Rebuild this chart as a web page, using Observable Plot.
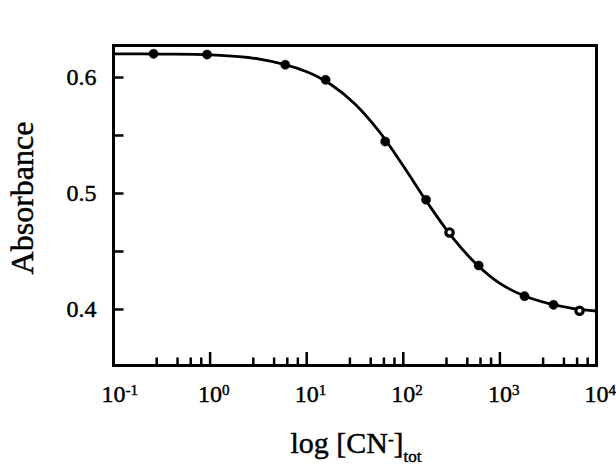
<!DOCTYPE html>
<html><head><meta charset="utf-8">
<script src="https://cdn.jsdelivr.net/npm/d3@7"></script>
<script src="https://cdn.jsdelivr.net/npm/@observablehq/plot@0.6"></script>
<style>html,body{margin:0;padding:0;background:#fff} svg{display:block} #chart svg text{font-family:"Liberation Serif",serif;stroke:#000;stroke-width:0.45px}</style>
</head><body><div id="chart"></div>
<script>
// measured data points
const concentration = [0.26, 0.93, 6.0, 15.7, 65, 172, 301, 603, 1800, 3590, 6670];
const absorbance = [0.6204, 0.6198, 0.6110, 0.5980, 0.5448, 0.4946, 0.4664, 0.4379, 0.4115, 0.4040, 0.3989];
const openMarker = [false, false, false, false, false, false, true, false, false, false, true];
// fitted curve
const fitConcentration = [0.1, 0.316, 1, 3.16, 10, 17.8, 31.6, 56.2, 100, 178, 316, 562, 1000, 1778, 3162, 5623, 10000];
const fitAbsorbance = [0.6204, 0.6202, 0.6195, 0.6160, 0.6050, 0.5940, 0.5772, 0.5535, 0.5237, 0.4920, 0.4630, 0.4397, 0.4225, 0.4118, 0.4052, 0.4010, 0.3987];
// axes
const majorTicksX = [0.1, 1, 10, 100, 1000, 10000];
const tickExponents = ["-1", "0", "1", "2", "3", "4"];
const minorFactors = [2.8, 4.6, 6.3, 8.1];
const ticksY = [0.4, 0.5, 0.6];
const minorTicksY = [0.45, 0.55];
const yTitle = "Absorbance";

const W = 616, H = 466, mt = 45, mb = 101, ml = 113, mr = 20;
const innerH = H - mt - mb, innerW = W - ml - mr;
const points = concentration.map((x, i) => ({x, y: absorbance[i], open: openMarker[i]}));
const fit = fitConcentration.map((x, i) => ({x, y: fitAbsorbance[i]}));
const minorTicksX = majorTicksX.slice(0, -1).flatMap(d => minorFactors.map(f => d * f));
const expOf = new Map(majorTicksX.map((d, i) => [d, tickExponents[i]]));

const plot = Plot.plot({
  width: W, height: H, marginTop: mt, marginBottom: mb, marginLeft: ml, marginRight: mr,
  style: {fontFamily: "Liberation Serif", background: "#fff", color: "#000", overflow: "visible"},
  x: {type: "log", domain: [0.1, 10000]},
  y: {domain: [0.3517, 0.6276]},
  marks: [
    Plot.axisX(majorTicksX, {tickSize: 0, tickPadding: 19, fontSize: 24, label: null, tickFormat: d => "10|" + expOf.get(d)}),
    Plot.axisY(ticksY, {tickSize: 0, tickPadding: 17, fontSize: 24, label: null, tickFormat: d => d.toFixed(1)}),
    Plot.tickX(majorTicksX, {x: d => d, insetTop: innerH - 13, strokeWidth: 2.5}),
    Plot.tickX(minorTicksX, {x: d => d, insetTop: innerH - 7.5, strokeWidth: 2.5}),
    Plot.tickY([...ticksY, ...minorTicksY], {y: d => d, insetRight: innerW - 10.5, strokeWidth: 2.5}),
    Plot.line(fit, {x: "x", y: "y", curve: "catmull-rom", strokeWidth: 2.8}),
    Plot.dot(points.filter(d => !d.open), {x: "x", y: "y", r: 4.6, fill: "black", stroke: "black", strokeWidth: 0.5}),
    Plot.dot(points.filter(d => d.open), {x: "x", y: "y", r: 3.7, fill: "white", stroke: "black", strokeWidth: 3.2}),
    Plot.frame({strokeWidth: 3})
  ]
});
document.getElementById("chart").appendChild(plot);

const svg = d3.select(plot);
svg.selectAll('g[aria-label="x-axis tick label"], g[aria-label="y-axis tick label"]')
  .attr("font-family", "Liberation Serif").attr("font-size", 24).style("font-size", "24px");
svg.selectAll('g[aria-label="x-axis tick label"] text').each(function () {
  const t = d3.select(this);
  const [base, exp] = t.text().split("|");
  t.text(base).attr("text-anchor", "start").attr("dx", "-0.5em");
  t.append("tspan").attr("dy", "-0.42em").style("font-size", "15px").text(exp);
});

svg.append("text")
  .attr("transform", "translate(33,198) rotate(-90)")
  .attr("text-anchor", "middle")
  .style("font-size", "32px")
  .attr("fill", "#000")
  .text(yTitle);

const xt = svg.append("text")
  .attr("x", 356).attr("y", 453)
  .attr("text-anchor", "middle")
  .style("font-size", "30px")
  .attr("fill", "#000");
xt.append("tspan").text("log [CN");
xt.append("tspan").attr("dy", -8).style("font-size", "17px").text("-");
xt.append("tspan").attr("dy", 8).text("]");
xt.append("tspan").attr("dy", 9).style("font-size", "17px").text("tot");
</script>
</body></html>
